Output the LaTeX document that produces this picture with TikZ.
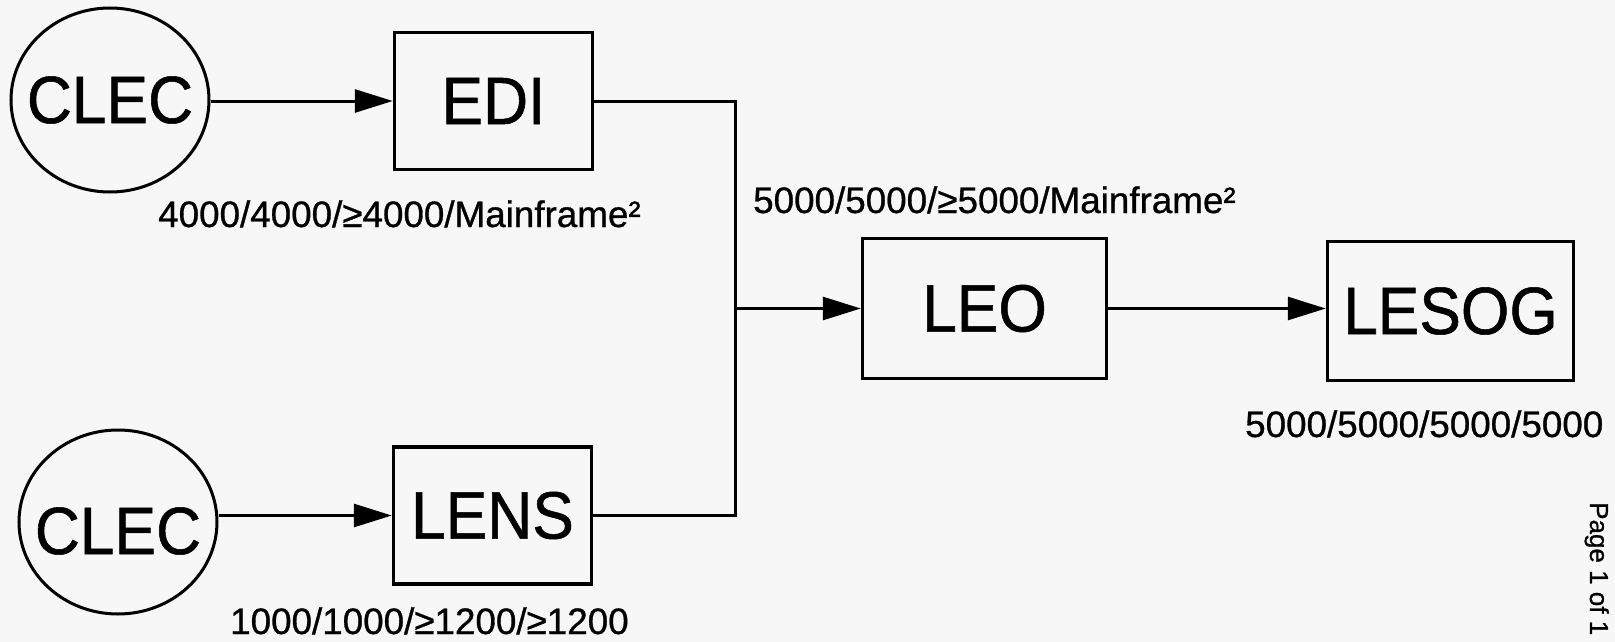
\documentclass[tikz,border=0pt]{standalone}
\usepackage{fontspec}
\setmainfont{Liberation Sans}[FakeBold=0.8]
\newfontfamily\boxfont{Liberation Sans}[FakeStretch=0.93,FakeBold=0.8]
\usetikzlibrary{arrows.meta,shapes.geometric}
\definecolor{paper}{HTML}{F7F7F7}
\begin{document}
\begin{tikzpicture}[x=1pt,y=-1pt,
  boxnode/.style={draw=black,line width=3.5pt,rectangle,inner sep=0pt,
    font=\boxfont\fontsize{67}{72}\selectfont},
  clecnode/.style={draw=black,line width=3pt,ellipse,inner sep=0pt,
    minimum width=198pt,minimum height=184pt},
  clectext/.style={inner sep=0pt,font=\boxfont\fontsize{67}{72}\selectfont},
  lbl/.style={inner sep=0pt,anchor=base west,font=\fontsize{36.8}{40}\selectfont},
  conn/.style={line width=3pt,line join=miter},
  arr/.style={conn,-{Triangle[length=38pt,width=23pt]}}]
\fill[paper] (0,0) rectangle (1615,642);
\useasboundingbox (0,0) rectangle (1615,642);

\node[clecnode,label={[clectext]center:CLEC}] (clec1) at (110,100) {};
\node[clecnode,label={[clectext,yshift=-9pt]center:CLEC}] (clec2) at (118,522) {};
\node[boxnode,minimum width=198pt,minimum height=137pt] (edi) at (493.5,101) {EDI\hspace{28pt}};
\node[boxnode,minimum width=198pt,minimum height=137pt] (lens) at (492.5,515.5) {LENS};
\node[boxnode,minimum width=244pt,minimum height=140pt] (leo) at (984.5,308.5) {LEO};
\node[boxnode,minimum width=246pt,minimum height=139pt] (lesog) at (1450.5,311) {LESOG};

\coordinate (bus) at (735,0);

\draw[arr] (clec1.east |- edi) -- (edi.west);
\draw[arr] (clec2.east |- lens) -- (lens.west);
\draw[conn] (edi.east) -| (bus |- lens.east) -- (lens.east);
\draw[arr] (bus |- leo) -- (leo.west);
\draw[arr] (leo.east) -- (lesog.west |- leo.east);

\node[lbl] (l1) at (158,227) {4000/4000/≥4000/Mainframe²};
\node[lbl] (l2) at (753,213) {5000/5000/≥5000/Mainframe²};
\node[lbl] (l3) at (230,634) {1000/1000/≥1200/≥1200};
\node[lbl] (l4) at (1245,437) {5000/5000/5000/5000};
\node[inner sep=0pt,anchor=base west,rotate=-90,font=\fontsize{26}{28}\selectfont] (pg) at (1590,502) {Page 1 of 1};
\end{tikzpicture}
\end{document}
